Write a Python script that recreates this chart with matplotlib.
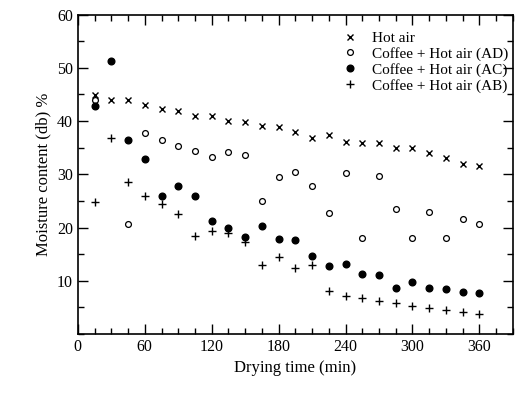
import numpy as np
import matplotlib
matplotlib.use("Agg")
import matplotlib.pyplot as plt
from matplotlib.ticker import MultipleLocator

plt.rcParams['font.family'] = ['Liberation Serif', 'DejaVu Serif']

time = [15, 30, 45, 60, 75, 90, 105, 120, 135, 150, 165, 180, 195, 210,
        225, 240, 255, 270, 285, 300, 315, 330, 345, 360]
hot_air = [44.8, 44.0, 43.9, 43.1, 42.2, 41.9, 41.0, 40.9, 40.0, 39.8, 39.0, 38.8,
           38.0, 36.9, 37.4, 36.0, 35.9, 35.9, 35.0, 35.0, 34.0, 33.1, 31.9, 31.5]
coffee_ad = [43.9, np.nan, 20.6, 37.8, 36.4, 35.3, 34.3, 33.3, 34.1, 33.7, 25.0, 29.4,
             30.4, 27.8, 22.7, 30.2, 18.1, 29.6, 23.5, 18.0, 23.0, 18.0, 21.6, 20.6]
coffee_ac = [42.8, 51.2, 36.5, 32.8, 25.9, 27.8, 25.9, 21.3, 20.0, 18.3, 20.3, 17.9,
             17.6, 14.6, 12.8, 13.1, 11.3, 11.1, 8.6, 9.8, 8.7, 8.4, 7.9, 7.8]
coffee_ab = [24.8, 36.8, 28.5, 26.0, 24.5, 22.5, 18.4, 19.4, 19.0, 17.2, 12.9, 14.4,
             12.4, 12.9, 8.1, 7.2, 6.8, 6.3, 5.8, 5.3, 4.8, 4.5, 4.1, 3.8]
labels = ['Hot air', 'Coffee + Hot air (AD)', 'Coffee + Hot air (AC)', 'Coffee + Hot air (AB)']

fig = plt.figure(figsize=(5.26, 3.93), dpi=100)
ax = fig.add_axes([0.148, 0.150, 0.827, 0.813])

ax.plot(time, hot_air, linestyle='none', marker='x', color='black', markersize=5, markeredgewidth=1.0, label=labels[0])
ax.plot(time, coffee_ad, linestyle='none', marker='o', markerfacecolor='white', markeredgecolor='black',
        markersize=4.2, markeredgewidth=0.9, label=labels[1])
ax.plot(time, coffee_ac, linestyle='none', marker='o', color='black', markersize=4.8, label=labels[2])
ax.plot(time, coffee_ab, linestyle='none', marker='+', color='black', markersize=6, markeredgewidth=1.0, label=labels[3])

ax.set_xlim(0, 390)
ax.set_ylim(0, 60)
ax.xaxis.set_major_locator(MultipleLocator(60))
ax.xaxis.set_minor_locator(MultipleLocator(15))
ax.yaxis.set_minor_locator(MultipleLocator(5))
ax.set_yticks([10, 20, 30, 40, 50, 60])
ax.tick_params(which='both', direction='in', top=True, right=True, labelsize=11.5, width=1.0)
ax.tick_params(which='major', length=7)
ax.tick_params(which='minor', length=4)
for s in ax.spines.values():
    s.set_linewidth(1.2)

ax.set_xlabel('Drying time (min)', fontsize=12)
ax.set_ylabel('Moisture content (db) %', fontsize=12)

ax.legend(loc='upper right', frameon=False, fontsize=11, handletextpad=0.9,
          labelspacing=0.12, bbox_to_anchor=(1.02, 0.99), handlelength=1.0)

fig.savefig('out.png', dpi=100)
